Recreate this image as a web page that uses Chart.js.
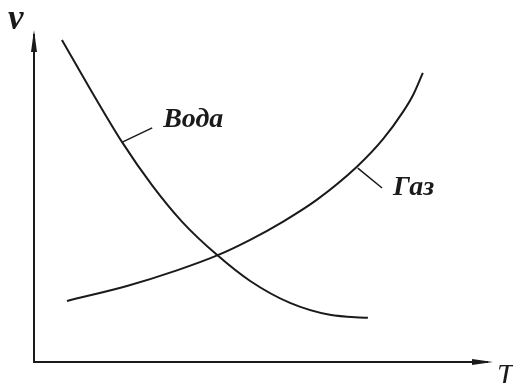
<!DOCTYPE html>
<html>
<head>
<meta charset="utf-8">
<script src="https://cdn.jsdelivr.net/npm/chart.js@4"></script>
<style>
  body { margin: 0; background: #fff; }
  #wrap { width: 513px; height: 383px; position: relative; }
</style>
</head>
<body>
<div id="wrap"><canvas id="chart"></canvas></div>
<script>
// Water curve (T, v) in arbitrary units, 0..100 on both axes
const waterT = [6.1, 12.7, 19.2, 25.8, 32.3, 40.0, 47.2, 55.9, 64.6, 72.9];
const waterV = [97.0, 81.2, 66.3, 53.2, 42.3, 32.2, 24.4, 17.8, 14.2, 13.3];

// Gas curve
const gasT = [7.2, 20.3, 31.2, 40.0, 47.2, 54.4, 61.8, 70.5, 76.2, 80.6, 82.8, 84.9];
const gasV = [18.4, 22.9, 27.6, 32.1, 36.8, 42.3, 48.9, 58.8, 67.1, 75.4, 80.5, 87.1];

// Leader lines from curve to label
const waterLeaderT = [19.4, 25.8];
const waterLeaderV = [66.3, 70.5];
const gasLeaderT = [70.7, 76.0];
const gasLeaderV = [58.4, 52.4];

// Curve labels
const labelTexts = ['Вода', 'Газ'];
const labelT = [28.2, 78.4];
const labelV = [70.8, 50.3];

const axisLabels = ['ν', 'T'];

const toPts = (xs, ys) => xs.map((x, i) => ({ x: x, y: ys[i] }));

const ink = '#1a1a1a';

// Draws the arrowed axes, the axis letters and the curve names
const sketchPlugin = {
    id: 'sketch',
    afterDatasetsDraw(chart) {
        const ctx = chart.ctx;
        const a = chart.chartArea;
        const xs = chart.scales.x, ys = chart.scales.y;
        ctx.save();
        ctx.strokeStyle = ink;
        ctx.fillStyle = ink;
        ctx.lineWidth = 2;

        // axes
        ctx.beginPath();
        ctx.moveTo(a.left, a.top + 4);
        ctx.lineTo(a.left, a.bottom);
        ctx.lineTo(a.right - 4, a.bottom);
        ctx.stroke();

        // arrow heads
        ctx.beginPath();
        ctx.moveTo(a.left, a.top);
        ctx.lineTo(a.left - 3, a.top + 22);
        ctx.lineTo(a.left + 3, a.top + 22);
        ctx.closePath();
        ctx.fill();
        ctx.beginPath();
        ctx.moveTo(a.right + 1, a.bottom);
        ctx.lineTo(a.right - 20, a.bottom - 3);
        ctx.lineTo(a.right - 20, a.bottom + 3);
        ctx.closePath();
        ctx.fill();

        // axis letters
        ctx.textBaseline = 'alphabetic';
        ctx.textAlign = 'left';
        ctx.font = 'bold italic 35px "Liberation Serif"';
        ctx.fillText(axisLabels[0], 8, 29);
        ctx.font = 'italic 30px "Liberation Serif"';
        ctx.fillText(axisLabels[1], 497, 384);

        // curve names
        ctx.font = 'bold italic 28px "Liberation Serif"';
        labelTexts.forEach((t, i) => {
            ctx.fillText(t, xs.getPixelForValue(labelT[i]), ys.getPixelForValue(labelV[i]));
        });
        ctx.restore();
    }
};

const curve = {
    borderColor: ink,
    borderWidth: 2,
    pointRadius: 0,
    fill: false,
    cubicInterpolationMode: 'monotone'
};
const leader = {
    borderColor: ink,
    borderWidth: 1.5,
    pointRadius: 0,
    fill: false,
    tension: 0
};

new Chart(document.getElementById('chart'), {
    type: 'line',
    data: {
        datasets: [
            Object.assign({ label: 'Вода', data: toPts(waterT, waterV) }, curve),
            Object.assign({ label: 'Газ', data: toPts(gasT, gasV) }, curve),
            Object.assign({ label: 'w', data: toPts(waterLeaderT, waterLeaderV) }, leader),
            Object.assign({ label: 'g', data: toPts(gasLeaderT, gasLeaderV) }, leader)
        ]
    },
    options: {
        responsive: true,
        maintainAspectRatio: false,
        animation: false,
        layout: { padding: { left: 34, right: 21, top: 30, bottom: 21 } },
        plugins: { legend: { display: false }, tooltip: { enabled: false } },
        scales: {
            x: { type: 'linear', min: 0, max: 100, display: false },
            y: { type: 'linear', min: 0, max: 100, display: false }
        }
    },
    plugins: [sketchPlugin]
});
</script>
</body>
</html>
